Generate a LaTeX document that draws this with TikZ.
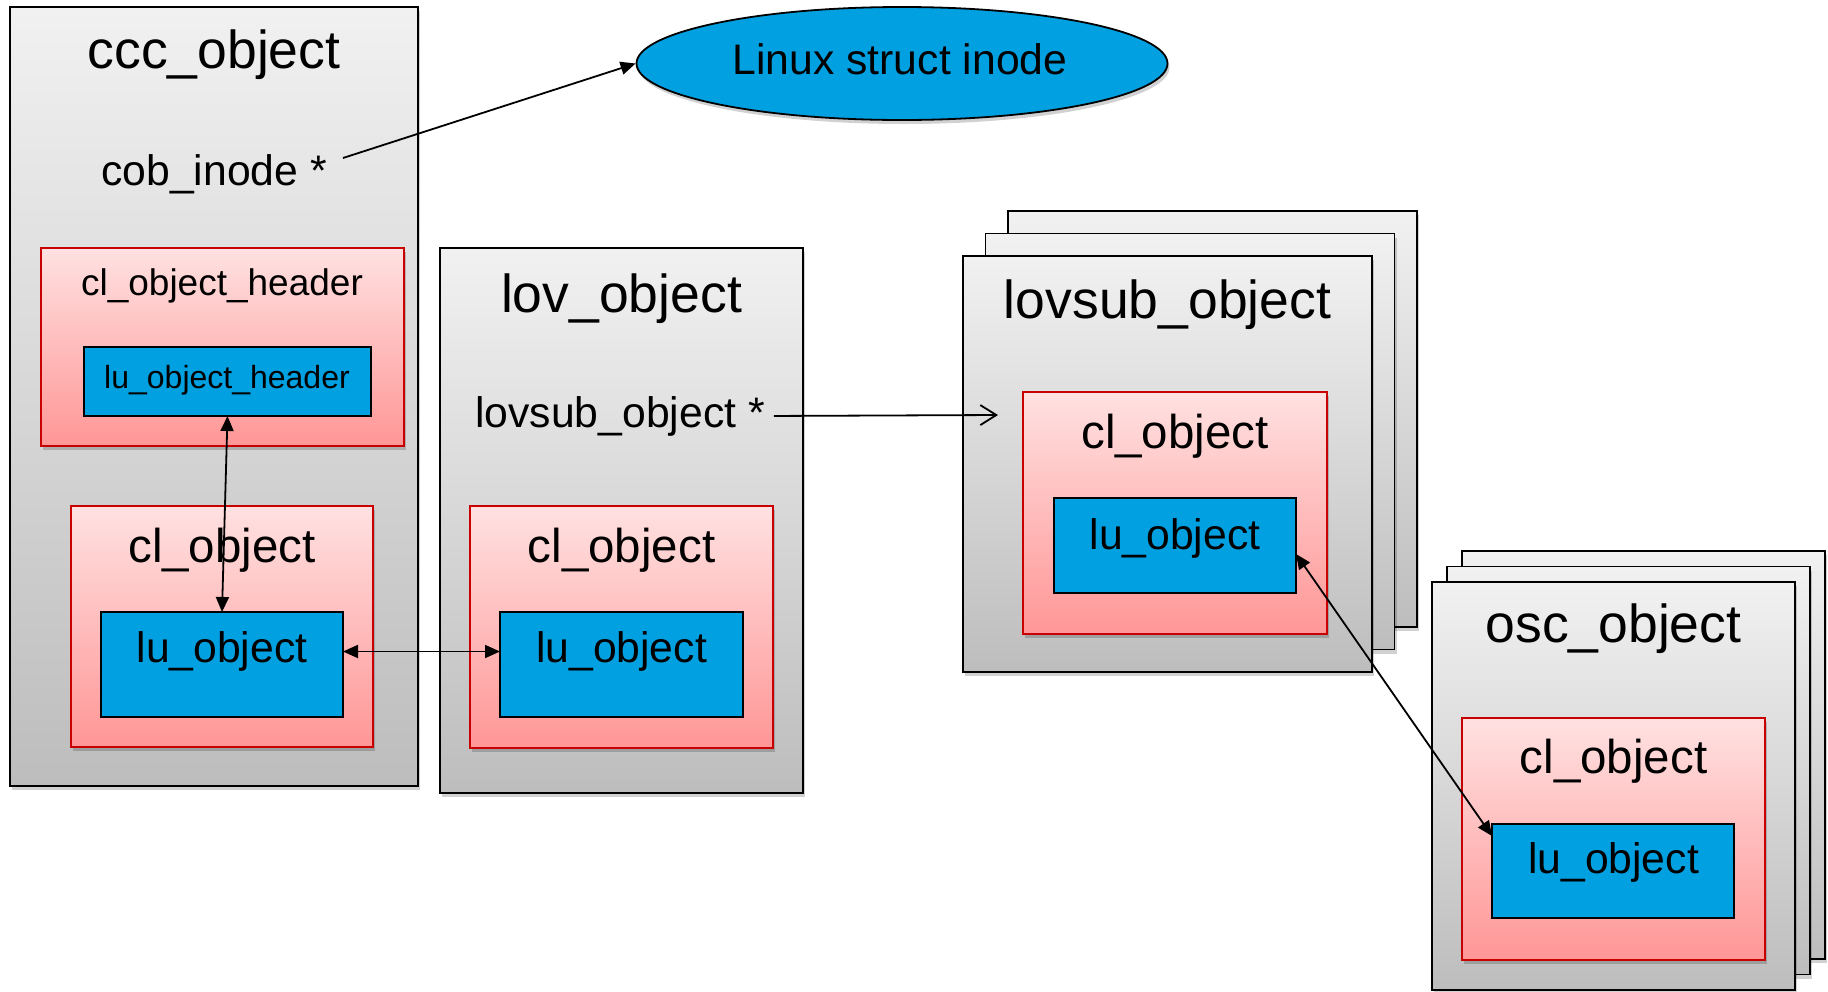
\documentclass[tikz,border=0pt]{standalone}
\usepackage{fontspec}
\setmainfont{Liberation Sans}
\usetikzlibrary{arrows.meta,shadows,calc,shapes.geometric}

\definecolor{boxtop}{RGB}{241,241,241}
\definecolor{boxbot}{RGB}{189,189,189}
\definecolor{redtop}{RGB}{255,225,225}
\definecolor{redbot}{RGB}{255,150,150}
\definecolor{redline}{RGB}{200,0,0}
\definecolor{lublue}{RGB}{0,160,225}

\begin{document}
\begin{tikzpicture}[x=1pt,y=-1pt,
  >={Triangle[length=15pt,width=13pt]},
  softshadow/.style={drop shadow={shadow xshift=2pt,shadow yshift=-4pt,fill=black,opacity=.18}},
  box/.style={line width=1.8pt,inner sep=0pt,outer sep=0pt,anchor=north west},
  graybox/.style={box,draw=black,top color=boxtop,bottom color=boxbot,softshadow},
  redbox/.style={box,draw=redline,top color=redtop,bottom color=redbot,softshadow},
  bluebox/.style={box,draw=black,fill=lublue},
  lsbstack/.style={graybox,minimum width=409pt,minimum height=416pt},
  oscstack/.style={graybox,minimum width=363pt,minimum height=408pt},
  lbl/.style={anchor=base,inner sep=0pt,outer sep=0pt},
  ttl/.style={lbl,font=\fontsize{53.5}{60}\selectfont},
  mid/.style={lbl,font=\fontsize{42.7}{48}\selectfont},
  clt/.style={lbl,font=\fontsize{47.5}{52}\selectfont},
  lut/.style={lbl,font=\fontsize{42.7}{48}\selectfont},
  conn/.style={line width=1.8pt,draw=black}
]
\useasboundingbox (0,0) rectangle (1828,991);

% ---------- ccc_object ----------
\node[graybox,minimum width=408pt,minimum height=779pt] (ccc) at (10,7) {};
\node[ttl] (ccct) at (214,68) {ccc\_object};
\node[mid] (cob) at (214,185) {cob\_inode *};
\node[redbox,minimum width=363pt,minimum height=198pt] (clh) at (41,248) {};
\node[lbl,font=\fontsize{37}{42}\selectfont] (clht) at (222,295) {cl\_object\_header};
\node[bluebox,minimum width=287pt,minimum height=69pt] (luh) at (84,347) {};
\node[lbl,font=\fontsize{32}{36}\selectfont] (luht) at (227,388) {lu\_object\_header};
\node[redbox,minimum width=302pt,minimum height=241pt] (cl1) at (71,506) {};
\node[clt] (cl1t) at (222,562) {cl\_object};
\node[bluebox,minimum width=242pt,minimum height=105pt] (lu1) at (101,612) {};
\node[lut] (lu1t) at (222,662) {lu\_object};

% ---------- lov_object ----------
\node[graybox,minimum width=363pt,minimum height=545pt] (lov) at (440,248) {};
\node[ttl] (lovt) at (621.5,312) {lov\_object};
\node[mid] (lsp) at (620,427) {lovsub\_object *};
\node[redbox,minimum width=303pt,minimum height=242pt] (cl2) at (470,506) {};
\node[clt] (cl2t) at (621.5,562) {cl\_object};
\node[bluebox,minimum width=243pt,minimum height=105pt] (lu2) at (500,612) {};
\node[lut] (lu2t) at (621.5,662) {lu\_object};

% ---------- Linux inode ----------
\node[ellipse,draw=black,line width=1.8pt,fill=lublue,minimum width=531pt,
      minimum height=113pt,inner sep=0pt,softshadow] (inode) at (902,63.5) {};
\node[mid] (inodet) at (900,74) {Linux struct inode};

% ---------- lovsub_object stack ----------
\node[lsbstack] (lsb3) at (1008,211) {};
\node[lsbstack] (lsb2) at (985.5,233.5) {};
\node[lsbstack] (lsb1) at (963,256) {};
\node[ttl] (lsbt) at (1167.5,318) {lovsub\_object};
\node[redbox,minimum width=304pt,minimum height=242pt] (cl3) at (1023,392) {};
\node[clt] (cl3t) at (1175,448) {cl\_object};
\node[bluebox,minimum width=242pt,minimum height=95pt] (lu3) at (1054,498) {};
\node[lut] (lu3t) at (1175,549) {lu\_object};

% ---------- osc_object stack ----------
\node[oscstack] (osc3) at (1462,551) {};
\node[oscstack] (osc2) at (1447,566.5) {};
\node[oscstack] (osc1) at (1432,582) {};
\node[ttl] (osct) at (1613.5,642) {osc\_object};
\node[redbox,minimum width=303pt,minimum height=242pt] (cl4) at (1462,718) {};
\node[clt] (cl4t) at (1613.5,773) {cl\_object};
\node[bluebox,minimum width=242pt,minimum height=94pt] (lu4) at (1492,824) {};
\node[lut] (lu4t) at (1613.5,873) {lu\_object};

% ---------- connectors ----------
\coordinate (cobtail) at (343,158);
\draw[conn,->] (cobtail) -- (inode.west);
\draw[conn,<->] (luh.south) -- (lu1.north);
\draw[conn,<->] ([yshift=13pt]lu1.east) -- ([yshift=13pt]lu2.west);
\coordinate (lsptip) at (998,415);
\draw[conn,-{Straight Barb[length=16pt,width=20pt]}] ([xshift=9pt]lsp.east) -- (lsptip);
\draw[conn,<->] ([yshift=-8.5pt]lu3.east) -- ([yshift=-12pt]lu4.north west);
\end{tikzpicture}
\end{document}
